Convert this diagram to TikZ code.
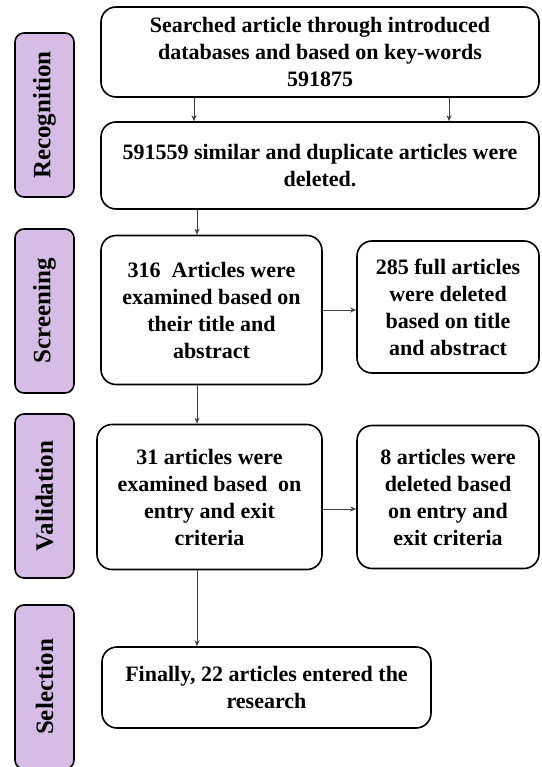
\documentclass[tikz,border=0pt]{standalone}
\usepackage{fontspec}
\setmainfont{Liberation Serif}
\usetikzlibrary{arrows.meta,positioning}
\definecolor{phaselilac}{RGB}{214,189,230}
\tikzset{
  flow box/.style={
    draw, line width=1.6pt, rounded corners=15pt, align=center,
    inner sep=0pt, font=\fontsize{22}{27}\selectfont\bfseries
  },
  phase label/.style={
    draw, fill=phaselilac, line width=1.6pt, rounded corners=9pt, rotate=90,
    minimum width=164pt, minimum height=59pt, inner sep=0pt,
    font=\fontsize{25}{28}\selectfont\bfseries
  },
  flow arrow/.style={-{Stealth[length=6pt,width=5pt]}, draw=black!75, line width=0.9pt}
}

\begin{document}
\begin{tikzpicture}[x=1pt,y=-1pt]
    \useasboundingbox (0,0) rectangle (541,767);
    \fill[white] (0,0) rectangle (541,767);
    % phases on the left
    \draw (44.5,115) node[phase label] (recog) {Recognition};
    \draw (44.5,311) node[phase label] (screen) {Screening};
    \draw (44.5,496) node[phase label] (valid) {Validation};
    \draw (44.5,687) node[phase label] (select) {Selection};
    % flow boxes
    \draw (320,52) node[flow box, minimum width=438pt, minimum height=90pt] (search) {Searched article through introduced\\databases and based on key-words\\591875};
    \draw (320,165.5) node[flow box, minimum width=438pt, minimum height=87pt] (dup) {591559 similar and duplicate articles were\\deleted.};
    \draw (211.5,310) node[flow box, minimum width=221pt, minimum height=149pt] (exam1) {316\ \ Articles were\\examined based on\\their title and\\abstract};
    \draw (448,307) node[flow box, minimum width=182pt, minimum height=132pt] (del1) {285 full articles\\were deleted\\based on title\\and abstract};
    \draw (209.5,497) node[flow box, minimum width=225pt, minimum height=145pt] (exam2) {31 articles were\\examined based\ \ on\\entry and exit\\criteria};
    \draw (448,497) node[flow box, minimum width=182pt, minimum height=143pt] (del2) {8 articles were\\deleted based\\on entry and\\exit criteria};
    \draw (266.5,687.5) node[flow box, minimum width=329pt, minimum height=81pt] (final) {Finally, 22 articles entered the\\research};
    \coordinate (col) at (197,0);
    % connectors
    \draw[flow arrow] ([xshift=-126pt]search.south) -- ([xshift=-126pt]dup.north);
    \draw[flow arrow] ([xshift=129pt]search.south) -- ([xshift=129pt]dup.north);
    \draw[flow arrow] (dup.south -| col) -- (exam1.north -| col);
    \draw[flow arrow] (exam1.east) -- (exam1.east -| del1.west);
    \draw[flow arrow] (exam1.south -| col) -- (exam2.north -| col);
    \draw[flow arrow] ([yshift=-12pt]exam2.east) -- ([yshift=-12pt]exam2.east -| del2.west);
    \draw[flow arrow] (exam2.south -| col) -- (final.north -| col);
\end{tikzpicture}
\end{document}
